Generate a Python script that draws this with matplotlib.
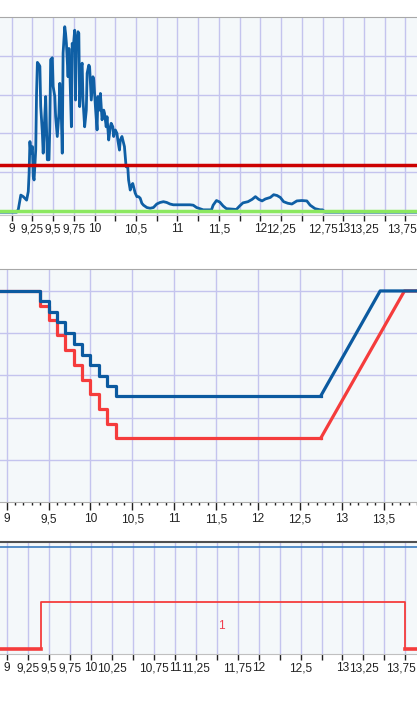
import matplotlib.pyplot as plt
import matplotlib.transforms as mtransforms
import numpy as np

plt.rcParams['font.family'] = ['Liberation Sans', 'DejaVu Sans']

# panel 1 : noisy signal + threshold + baseline
sig_x = [8.86, 9.06, 9.08, 9.11, 9.14, 9.18, 9.20, 9.21, 9.22, 9.23, 9.25, 9.26, 9.27, 9.29,
         9.30, 9.31, 9.33, 9.34, 9.35, 9.37, 9.38, 9.39, 9.41, 9.42, 9.43, 9.45, 9.46, 9.47,
         9.49, 9.50, 9.52, 9.53, 9.55, 9.57, 9.58, 9.60, 9.61, 9.62, 9.64, 9.65, 9.66, 9.68,
         9.69, 9.70, 9.72, 9.73, 9.74, 9.76, 9.77, 9.78, 9.80, 9.81, 9.82, 9.84, 9.85, 9.86,
         9.88, 9.90, 9.91, 9.93, 9.94, 9.96, 9.98, 9.99, 10.01, 10.03, 10.04, 10.06, 10.07,
         10.09, 10.11, 10.12, 10.14, 10.15, 10.17, 10.19, 10.20, 10.22, 10.23, 10.25, 10.27,
         10.28, 10.30, 10.31, 10.33, 10.35, 10.36, 10.38, 10.40, 10.41, 10.43, 10.44, 10.46,
         10.48, 10.49, 10.51, 10.53, 10.55, 10.57, 10.59, 10.63, 10.67, 10.71, 10.75, 10.79,
         10.83, 10.87, 10.91, 10.95, 11.15, 11.19, 11.23, 11.27, 11.31, 11.41, 11.43, 11.47,
         11.51, 11.55, 11.59, 11.71, 11.75, 11.79, 11.85, 11.90, 11.94, 11.98, 12.02, 12.06,
         12.12, 12.16, 12.20, 12.24, 12.28, 12.33, 12.38, 12.44, 12.50, 12.56, 12.60, 12.66,
         12.72, 12.75, 12.78, 13.90]
sig_y = [-0.03, -0.03, 0.04, 0.41, 0.37, 0.28, 0.50, 0.97, 1.79, 1.49, 1.66, 0.89, 0.80, 1.58,
         3.04, 3.83, 3.77, 3.73, 2.70, 2.01, 1.49, 2.01, 2.95, 2.18, 1.32, 1.32, 2.18, 3.90,
         3.95, 3.21, 2.95, 2.43, 1.92, 2.52, 3.29, 2.35, 1.49, 4.07, 4.75, 4.58, 4.32, 3.46,
         4.19, 3.72, 2.17, 4.32, 4.15, 4.66, 2.86, 4.32, 4.62, 4.58, 2.69, 3.72, 3.81, 2.86,
         2.17, 2.60, 3.55, 3.76, 3.72, 2.86, 3.46, 3.38, 2.69, 2.09, 2.95, 2.60, 3.03,
         2.35, 2.60, 2.52, 2.17, 2.43, 1.83, 2.17, 2.26, 2.17, 1.92, 2.09, 2.00,
         1.83, 1.57, 1.83, 1.92, 1.74, 1.66, 1.14, 1.14, 0.80, 0.54, 0.63, 0.71,
         0.54, 0.46, 0.37, 0.37, 0.33, 0.20, 0.15, 0.09, 0.07, 0.09, 0.18, 0.22,
         0.24, 0.22, 0.18, 0.16, 0.16, 0.15, 0.09, 0.06, 0.03, 0.03, 0.15, 0.27,
         0.23, 0.13, 0.06, 0.04, 0.13, 0.21, 0.24, 0.30, 0.37, 0.30, 0.26, 0.31,
         0.35, 0.42, 0.40, 0.35, 0.24, 0.20, 0.18, 0.26, 0.27, 0.26, 0.15, 0.06,
         0.03, 0.03, -0.03, -0.03]
threshold = 1.19
baseline = 0.0
p1_ticks = [9, 9.25, 9.5, 9.75, 10, 10.25, 10.5, 10.75, 11, 11.25, 11.5, 11.75, 12, 12.25,
            12.5, 12.75, 13, 13.25, 13.5, 13.75]
p1_labels = ['9', '9,25', '9,5', '9,75', '10', '', '10,5', '', '11', '', '11,5', '', '12',
             '12,25', '', '12,75', '13', '13,25', '', '13,75']

# panel 2 : two staircase curves
step_x = [9.4, 9.5, 9.6, 9.7, 9.8, 9.9, 10.0, 10.1, 10.2, 10.3]
blue_levels = [4.77, 4.49, 4.27, 4.0, 3.75, 3.49, 3.25, 2.99, 2.75, 2.51]
red_levels = [4.65, 4.31, 3.95, 3.61, 3.25, 2.90, 2.57, 2.21, 1.84, 1.51]
start_level = 5.0
ramp_start = 12.75
blue_ramp_end = 13.46
red_ramp_end = 13.75
p2_ticks = [9, 9.5, 10, 10.5, 11, 11.5, 12, 12.5, 13, 13.5]
p2_labels = ['9', '9,5', '10', '10,5', '11', '11,5', '12', '12,5', '13', '13,5']

# panel 3 : on/off state
state_x = [8.9, 9.4, 13.75, 13.9]
state_y = [0, 1, 0, 0]
state_text = '1'
state_text_pos = (11.56, 0.50)
p3_blue_level = 2.17
p3_ticks = p1_ticks
p3_labels = ['9', '9,25', '9,5', '9,75', '10', '10,25', '', '10,75', '11', '11,25', '',
             '11,75', '12', '', '12,5', '', '13', '13,25', '', '13,75']

W, H = 417, 717
fig = plt.figure(figsize=(W / 100, H / 100), dpi=100)


def make_ax(top, bottom):
    ax = fig.add_axes([0, 1 - bottom / H, 1, (bottom - top) / H])
    ax.set_facecolor('#f4f8fa')
    for s in ['left', 'right']:
        ax.spines[s].set_visible(False)
    ax.tick_params(axis='y', left=False, labelleft=False)
    ax.tick_params(axis='x', colors='#222222', labelsize=8.6, length=4, width=1, pad=2)
    ax.set_axisbelow(True)
    return ax


def nudge_last(ax):
    # keep the rightmost label inside the figure
    lab = ax.get_xticklabels()[-1]
    off = mtransforms.ScaledTranslation(-4 / 100, 0, fig.dpi_scale_trans)
    lab.set_transform(lab.get_transform() + off)


grid_c = '#c4c4ee'

# ---- panel 1
ax1 = make_ax(17, 215)
ax1.set_xlim(8.859, 13.889)
ax1.set_ylim(-0.103, 5.0)
ax1.set_xticks(p1_ticks)
ax1.set_xticklabels(p1_labels)
ax1.set_yticks([1, 2, 3, 4])
ax1.grid(True, color=grid_c, lw=1)
ax1.spines['top'].set_color('#a8a8a8')
ax1.spines['bottom'].set_color('#c8c8c8')
ax1.plot(sig_x, sig_y, color='#0f5fa5', lw=2)
ax1.axhline(baseline, color='#8ce860', lw=2.5)
ax1.axhline(threshold, color='#cc0000', lw=2.5)
nudge_last(ax1)

# ---- panel 2
ax2 = make_ax(269, 502)
ax2.set_xlim(8.92, 13.90)
ax2.set_ylim(0, 5.52)
ax2.set_xticks(p2_ticks)
ax2.set_xticklabels(p2_labels)
ax2.set_xticks(np.arange(9, 13.95, 0.1), minor=True)
ax2.tick_params(axis='x', which='minor', length=2, width=1, colors='#222222')
ax2.tick_params(axis='x', which='major', length=6)
ax2.set_yticks([1, 2, 3, 4, 5])
ax2.grid(True, which='major', color=grid_c, lw=1)
ax2.spines['top'].set_color('#a8a8a8')
ax2.spines['bottom'].set_color('#b0b0b0')
for levels, ramp_end, col in [(red_levels, red_ramp_end, '#f53c3c'),
                              (blue_levels, blue_ramp_end, '#0b5aa0')]:
    xs = [ax2.get_xlim()[0]] + step_x + [ramp_start]
    ys = [start_level] + levels + [levels[-1]]
    ax2.step(xs, ys, where='post', color=col, lw=2.3)
    ax2.plot([ramp_start, ramp_end, ax2.get_xlim()[1]],
             [levels[-1], start_level, start_level], color=col, lw=2.3)

# ---- panel 3
ax3 = make_ax(542, 654)
ax3.set_xlim(8.913, 13.889)
ax3.set_ylim(-0.106, 2.277)
ax3.set_xticks(p3_ticks)
ax3.set_xticklabels(p3_labels)
ax3.grid(True, axis='x', color=grid_c, lw=1)
ax3.spines['top'].set_color('#505050')
ax3.spines['top'].set_linewidth(1.5)
ax3.spines['bottom'].set_color('#c0c0c0')
ax3.axhline(p3_blue_level, color='#3a7cc0', lw=1.2)
ax3.step(state_x, state_y, where='post', color='#f53c3c', lw=1.3)
for i in range(len(state_x) - 1):
    if state_y[i] == 0:
        ax3.plot([state_x[i], state_x[i + 1]], [0, 0], color='#f53c3c', lw=2.6)
ax3.text(state_text_pos[0], state_text_pos[1], state_text, color='#f04050',
         fontsize=8.6, ha='center', va='center')
nudge_last(ax3)

fig.savefig('out.png', dpi=100)
